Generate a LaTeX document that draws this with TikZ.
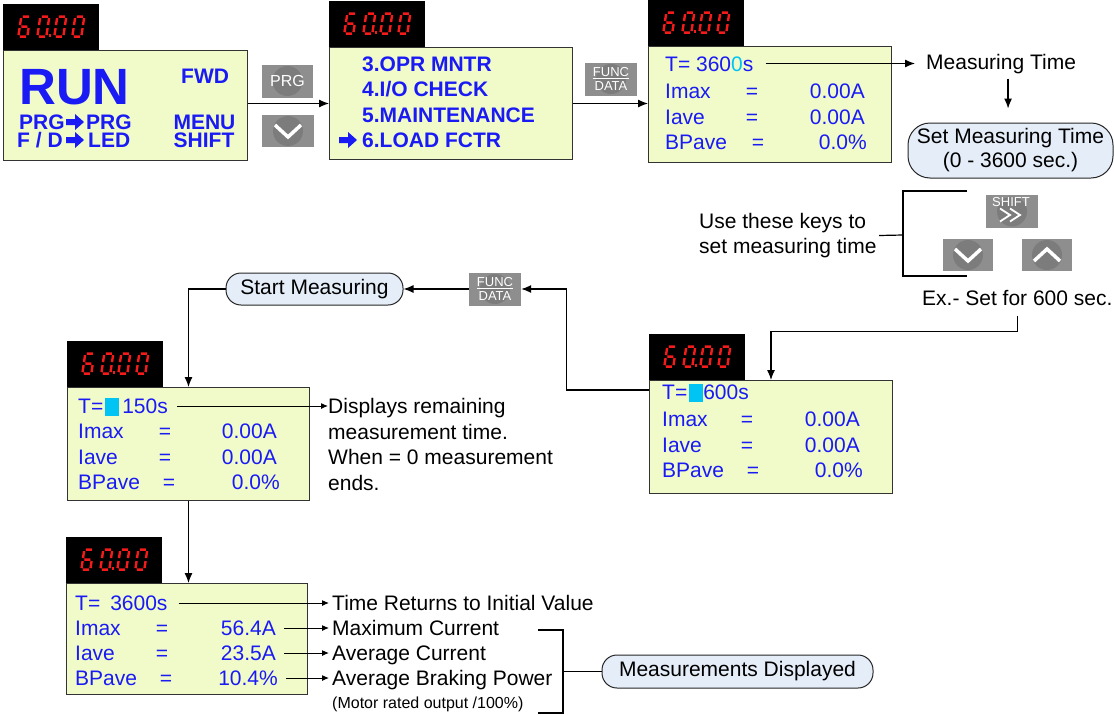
\documentclass[tikz,border=0pt]{standalone}
\usepackage{fontspec}
\setmainfont{Liberation Sans}
\usetikzlibrary{arrows.meta, positioning, calc}

\newcommand{\fs}[1]{\fontsize{#1}{#1}\selectfont}
\newcommand{\curs}{\textcolor{cursor}{\rule[-2.5pt]{14pt}{18pt}}}

\definecolor{lcdbg}{HTML}{F0FBC9}
\definecolor{lcdblue}{HTML}{1A1AF5}
\definecolor{ledred}{HTML}{F51B1B}
\definecolor{keygray}{HTML}{8E8E8E}
\definecolor{keydark}{HTML}{7C7C7C}
\definecolor{bubfill}{HTML}{E5EDF8}
\definecolor{cursor}{HTML}{00C4F4}

\begin{document}
\begin{tikzpicture}[x=1pt, y=-1pt,
    >={Latex[length=10pt, width=8pt]},
    lcd/.style={draw=black!80, fill=lcdbg, line width=1pt, anchor=north west, inner sep=0pt},
    led/.style={fill=black, minimum width=96pt, minimum height=46pt, inner sep=0pt},
    ledseg/.style={ledred, line width=2.4pt},
    lt/.style={anchor=west, inner sep=0pt, text=lcdblue, font=\fs{21}, text height=15pt, text depth=0pt},
    rt/.style={lt, anchor=east},
    ct/.style={lt, anchor=center},
    bt/.style={lt, font=\fs{21}\bfseries},
    note/.style={anchor=west, inner sep=0pt, font=\fs{21}, text height=15pt, text depth=0pt},
    mnote/.style={inner sep=0pt, align=left, font=\fontsize{21}{25.4}\selectfont},
    bubble/.style={draw=black!85, line width=1pt, fill=bubfill, rounded corners=15pt, align=center,
                   font=\fontsize{21}{24}\selectfont, inner sep=0pt},
    key/.style={fill=keygray, inner sep=0pt, text=white, minimum width=51pt, minimum height=33pt,
                path picture={\fill[keydark] (path picture bounding box.center) circle (15pt);}},
    arr/.style={->, line width=1.2pt},
    sarr/.style={-{Latex[length=7pt, width=6pt]}, line width=1pt},
    brk/.style={line width=1.2pt},
    chev/.style={white, line width=3.5pt},
    lcdarrow/.pic={\fill[lcdblue] (0,-3) -- (9,-3) -- (9,-8) -- (18,0) -- (9,8) -- (9,3) -- (0,3) -- cycle;},
    ledzero/.pic={\draw[ledseg] (1.5,0) -- (7.5,0) (9,1.5) -- (9,8.5) (9,11.5) -- (9,18.5)
                  (1.5,20) -- (7.5,20) (0,11.5) -- (0,18.5) (0,1.5) -- (0,8.5);},
    ledsix/.pic={\draw[ledseg] (1.5,0) -- (7.5,0) (9,11.5) -- (9,18.5) (1.5,20) -- (7.5,20)
                  (0,11.5) -- (0,18.5) (0,1.5) -- (0,8.5) (1.5,10) -- (7.5,10);},
]
\useasboundingbox (0,0) rectangle (1114,715);

% ---- display 1: RUN screen ----
\node[lcd, minimum width=244pt, minimum height=110pt] (d1) at (3,50) {};
\node[led, above right=0pt of d1.north west] (l1) {};
\node[bt, font=\fs{51}\bfseries, text height=36.5pt] (run) at (19,86.5) {RUN};
\node[bt] (fwd) at (181,76) {FWD};
\node[bt] (p1) at (19,122) {PRG};
\pic at (66,122) {lcdarrow};
\node[bt] (p2) at (86,122) {PRG};
\node[bt] (fd) at (17,140) {F / D};
\pic at (66,140) {lcdarrow};
\node[bt] (led1) at (88,140) {LED};
\node[bt, anchor=center] (menu) at (204.5,122) {MENU};
\node[bt, anchor=center] (shf) at (204,140) {SHIFT};

% ---- keys ----
\node[key, font=\fs{16}] (prg) at (287.5,81) {PRG};
\node[key, minimum width=52pt, minimum height=32pt] (dn1) at (288,131) {};
\node[key, font=\fs{13}, align=center, minimum width=52pt] (fk1) at (611,79) {\underline{FUNC}\\[1pt]DATA};

% ---- display 2: menu ----
\node[lcd, minimum width=243pt, minimum height=112pt] (d2) at (329,47) {};
\node[led, above right=0pt of d2.north west] (l2) {};
\node[bt] (m3) at (362,64) {3.OPR MNTR};
\node[bt] (m4) at (362,89) {4.I/O CHECK};
\node[bt] (m5) at (362,115) {5.MAINTENANCE};
\pic at (339,140) {lcdarrow};
\node[bt] (m6) at (362,140) {6.LOAD FCTR};

% ---- display 3: measuring time ----
\node[lcd, minimum width=243pt, minimum height=116pt] (d3) at (648,46) {};
\node[led, above right=0pt of d3.north west] (l3) {};
\node[lt] (d3t) at (665,63.5) {T= 360\textcolor{cursor}{0}s};
\node[lt] (d3a) at (665,90.5) {Imax};
\node[ct] (d3ae) at (752,90.5) {=};
\node[rt] (d3av) at (865,90.5) {0.00A};
\node[lt] (d3b) at (665,117) {Iave};
\node[ct] (d3be) at (752,117) {=};
\node[rt] (d3bv) at (865,117) {0.00A};
\node[lt] (d3c) at (665,142) {BPave};
\node[ct] (d3ce) at (758,142) {=};
\node[rt] (d3cv) at (867,142) {0.0\%};

\node[note] (mtime) at (926,62) {Measuring Time};
\node[bubble, minimum width=205pt, minimum height=55pt, rounded corners=22pt] (setb) at (1010.5,150.5)
    {Set Measuring Time\\(0 - 3600 sec.)};

% ---- setting keys ----
\node[mnote, anchor=west] (keys) at (699,235.5) {Use these keys to\\set measuring time};
\node[key, minimum width=52pt] (sk) at (1012,211.5) {};
\node[inner sep=0pt, text=white, font=\fs{13}] (sklbl) at (1011,202) {SHIFT};
\node[key, minimum width=50pt, minimum height=32pt] (dn2) at (968,255) {};
\node[key, minimum width=50pt, minimum height=32pt] (up) at (1047,255) {};
\node[note] (ex) at (922,298) {Ex.- Set for 600 sec.};

\coordinate (kt) at (967,191);
\coordinate (kb) at (967,276);
\coordinate (kc) at (903,235);

% ---- display 4: 600 s set ----
\node[lcd, minimum width=243pt, minimum height=113pt] (d4) at (649,380) {};
\node[led, above right=0pt of d4.north west] (l4) {};
\node[lt] (d4t) at (662,392) {T=\hspace{2pt}\curs600s};
\node[lt] (d4a) at (662,419) {Imax};
\node[ct] (d4ae) at (747,419) {=};
\node[rt] (d4av) at (860,419) {0.00A};
\node[lt] (d4b) at (662,444.5) {Iave};
\node[ct] (d4be) at (747,444.5) {=};
\node[rt] (d4bv) at (860,444.5) {0.00A};
\node[lt] (d4c) at (662,469.5) {BPave};
\node[ct] (d4ce) at (753,469.5) {=};
\node[rt] (d4cv) at (863,469.5) {0.0\%};

\node[key, font=\fs{13}, align=center, minimum width=52pt] (fk2) at (495,289) {\underline{FUNC}\\[1pt]DATA};
\node[bubble, minimum width=177pt, minimum height=32pt] (start) at (314.5,289) {Start Measuring};

% ---- display 5: counting down ----
\node[lcd, minimum width=242pt, minimum height=113pt] (d5) at (67,387) {};
\node[led, above right=0pt of d5.north west] (l5) {};
\node[lt] (d5t) at (78,406) {T=\hspace{2pt}\curs\hspace{3pt}150s};
\node[lt] (d5a) at (78,431) {Imax};
\node[ct] (d5ae) at (165,431) {=};
\node[rt] (d5av) at (277,431) {0.00A};
\node[lt] (d5b) at (78,456.5) {Iave};
\node[ct] (d5be) at (165,456.5) {=};
\node[rt] (d5bv) at (277,456.5) {0.00A};
\node[lt] (d5c) at (78,481.5) {BPave};
\node[ct] (d5ce) at (169,481.5) {=};
\node[rt] (d5cv) at (280,481.5) {0.0\%};
\node[mnote, anchor=north west] (rem) at (328,398.5)
    {Displays remaining\\measurement time.\\When = 0 measurement\\ends.};

% ---- display 6: results ----
\node[lcd, minimum width=241pt, minimum height=111pt] (d6) at (66,583) {};
\node[led, above right=0pt of d6.north west] (l6) {};
\node[lt] (d6t) at (75,603) {T=\hspace{10pt}3600s};
\node[lt] (d6a) at (75,628) {Imax};
\node[ct] (d6ae) at (162,628) {=};
\node[rt] (d6av) at (276,628) {56.4A};
\node[lt] (d6b) at (75,653) {Iave};
\node[ct] (d6be) at (162,653) {=};
\node[rt] (d6bv) at (276,653) {23.5A};
\node[lt] (d6c) at (75,678) {BPave};
\node[ct] (d6ce) at (166,678) {=};
\node[rt] (d6cv) at (278,678) {10.4\%};

\node[note] (n1) at (332,603) {Time Returns to Initial Value};
\node[note] (n2) at (332,628) {Maximum Current};
\node[note] (n3) at (332,653) {Average Current};
\node[note] (n4) at (332,678) {Average Braking Power};
\node[note, font=\fs{16}, text height=11pt] (n5) at (332,703) {(Motor rated output /100\%)};
\node[bubble, minimum width=271pt, minimum height=33pt] (mdisp) at (737.5,671.5) {Measurements Displayed};

\coordinate (mt) at (538,630);
\coordinate (mb) at (538,713);
\coordinate (mc) at (563,671.5);

% ---- LED digits 60.00 ----
\foreach \l in {l1,l2,l3,l4,l5,l6} {
  \pic[xslant=0.15] at ($(\l.north west)+(18.3,13)$) {ledsix};
  \pic[xslant=0.15] at ($(\l.north west)+(37.3,13)$) {ledzero};
  \fill[ledred] ($(\l.north west)+(46,30.6)$) rectangle ++(2.4,2.4);
  \pic[xslant=0.15] at ($(\l.north west)+(54.3,13)$) {ledzero};
  \pic[xslant=0.15] at ($(\l.north west)+(72.3,13)$) {ledzero};
}

% ---- key glyphs ----
\foreach \k in {dn1,dn2}
  \draw[chev] ($(\k.center)+(-13,-6)$) -- ($(\k.center)+(0,6)$) -- ($(\k.center)+(13,-6)$);
\draw[chev] ($(up.center)+(-13,6)$) -- ($(up.center)+(0,-6)$) -- ($(up.center)+(13,6)$);
\foreach \dx in {-12,-2}
  \draw[white, line width=1.8pt] ($(sk.center)+(\dx,-3)$) -- ++(10,6.5) -- ++(-10,6.5);

% ---- connectors ----
\draw[arr] (d2.west -| d1.east) -- (d2.west);
\draw[arr] (d2.east) -- (d2.east -| d3.west);
\draw[arr, shorten >=11pt] ([xshift=12pt]d3t.east) -- (mtime.west |- d3t.east);
\draw[arr, shorten <=9pt, shorten >=14pt] ($(mtime.south)+(7,0)$) -- ($(mtime.south |- setb.north)+(7,0)$);
\draw[brk] (keys.east -| kc) ++(-24,0) -- (kc);
\draw[brk] (kt) -| (kc) |- (kb);
\draw[arr] ([yshift=-10pt]ex.south) -- ++(0,16) -| (d4.north);
\draw[arr] ([yshift=-10pt]d4.north west) -| ($(fk2.east)+(45,0)$) -- (fk2.east);
\draw[arr] (fk2.west) -- (start.east);
\draw[arr] (start.west) -| (d5.north);
\draw[sarr] ([xshift=9pt]d5t.east) -- (rem.west |- d5t.east);
\draw[arr] (d5.south) -- (d5.south |- d6.north);
\draw[sarr, shorten >=3pt] ([xshift=11pt]d6t.east) -- (n1.west |- d6t.east);
\foreach \a/\b in {d6av/n2, d6bv/n3, d6cv/n4}
  \draw[sarr, shorten >=3pt] ([xshift=8pt]\a.east) -- (\b.west |- \a.east);
\draw[brk] (mt) -| (mc) |- (mb);
\draw[brk] (mc) -- (mdisp.west);
\end{tikzpicture}
\end{document}
